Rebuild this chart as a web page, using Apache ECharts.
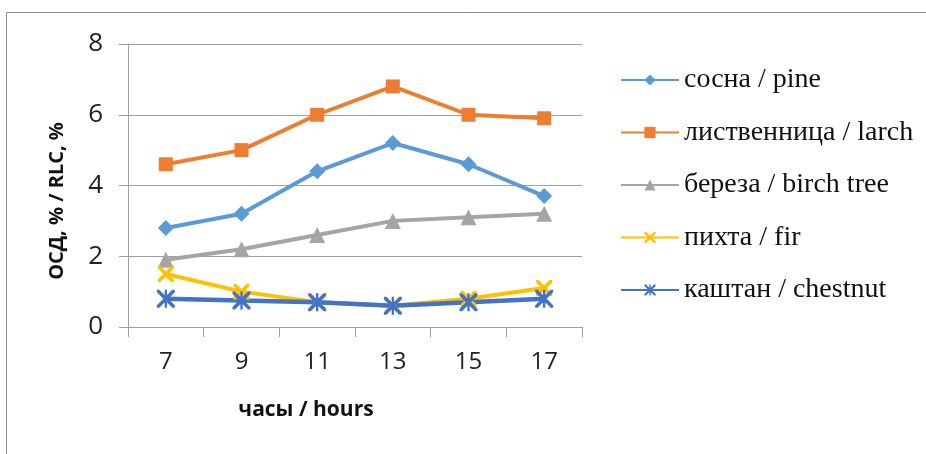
<!DOCTYPE html>
<html><head><meta charset="utf-8">
<script src="https://cdn.jsdelivr.net/npm/echarts@6/dist/echarts.min.js"></script>
<style>html,body{margin:0;padding:0;background:#fff}#c{width:926px;height:454px}</style>
</head><body><div id="c"></div>
<script>
const hours = ['7','9','11','13','15','17'];
const yTicks = [0,2,4,6,8];
const seriesNames = ['сосна / pine','лиственница / larch','береза / birch tree','пихта / fir','каштан / chestnut'];
const pine = [2.8,3.2,4.4,5.2,4.6,3.7];
const larch = [4.6,5.0,6.0,6.8,6.0,5.9];
const birch = [1.9,2.2,2.6,3.0,3.1,3.2];
const fir = [1.5,1.0,0.7,0.6,0.8,1.1];
const chestnut = [0.8,0.75,0.7,0.6,0.7,0.8];
const yTitle = 'ОСД, % / RLC, %';
const xTitle = 'часы / hours';

const crossPath = 'path://M0,0 L1.6,0 L10,8.4 L10,10 L8.4,10 L0,1.6 Z M10,0 L10,1.6 L1.6,10 L0,10 L0,8.4 L8.4,0 Z';
const starPath = 'path://M0,0 L1.4,0 L10,8.6 L10,10 L8.6,10 L0,1.4 Z M10,0 L10,1.4 L1.4,10 L0,10 L0,8.6 L8.6,0 Z M4.35,0 L5.65,0 L5.65,10 L4.35,10 Z';

const colors = ['#5B9BD5','#ED7D31','#A5A5A5','#FFC000','#4472C4'];
const symbols = ['diamond','rect','triangle',crossPath,starPath];
const sizes = [16,14,16,16,18];
const widths = [4,4,4,4,4.5];
const dataSets = [pine,larch,birch,fir,chestnut];

const chart = echarts.init(document.getElementById('c'));
chart.setOption({
  animation:false,
  color:colors,
  graphic:[
    {type:'rect',shape:{x:6.5,y:12.5,width:960,height:480},style:{fill:'none',stroke:'#8c8c8c',lineWidth:1},silent:true},
    {type:'text',x:57,y:201,rotation:Math.PI/2,style:{text:yTitle,font:'bold 20px "Open Sans"',fill:'#111',align:'center',verticalAlign:'middle'}},
    {type:'text',x:306,y:410,style:{text:xTitle,font:'bold 21px "Open Sans"',fill:'#111',align:'center',verticalAlign:'middle'}}
  ],
  grid:{left:128,right:344,top:44,bottom:127,containLabel:false},
  legend:{
    orient:'vertical',left:615,top:60,itemWidth:58,itemHeight:14,itemGap:22.5,
    data:seriesNames,
    textStyle:{fontFamily:'"Liberation Serif"',fontSize:28,color:'#111',lineHeight:30,padding:[0,0,0,0]}
  },
  xAxis:{
    type:'category',data:hours,boundaryGap:true,
    axisLine:{lineStyle:{color:'#a0a0a0',width:1}},
    axisTick:{show:true,length:10,lineStyle:{color:'#a0a0a0'}},
    axisLabel:{fontFamily:'"Open Sans"',fontSize:24,color:'#222',margin:23}
  },
  yAxis:{
    type:'value',min:0,max:8,interval:2,
    axisLine:{show:true,lineStyle:{color:'#a0a0a0',width:1}},
    axisTick:{show:true,length:9,lineStyle:{color:'#a0a0a0'}},
    splitLine:{lineStyle:{color:'#a0a0a0',width:1}},
    axisLabel:{fontFamily:'"Open Sans"',fontSize:26,color:'#222',margin:25,
      formatter:v=>yTicks.includes(v)?String(v):''}
  },
  series:dataSets.map((d,i)=>({
    name:seriesNames[i],type:'line',data:d,
    symbol:symbols[i],symbolSize:sizes[i],
    lineStyle:{width:widths[i],color:colors[i]},
    itemStyle:{color:colors[i]}
  }))
});
</script></body></html>
